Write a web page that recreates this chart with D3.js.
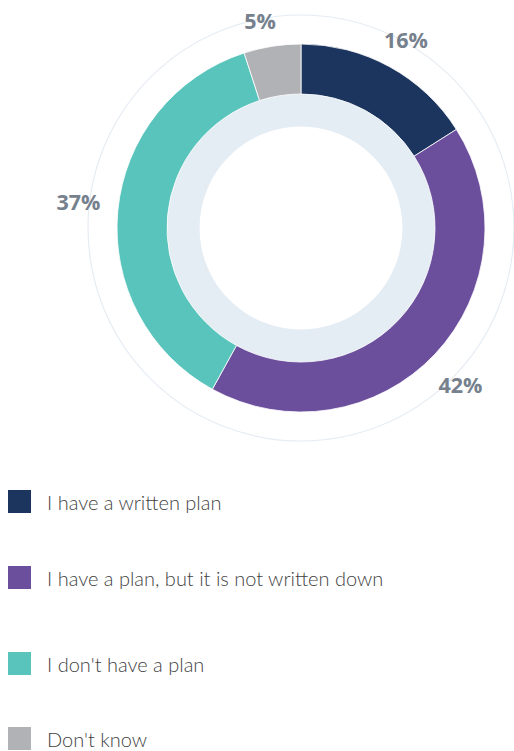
<!DOCTYPE html>
<html>
<head>
<meta charset="utf-8">
<script src="https://cdn.jsdelivr.net/npm/d3@7"></script>
<style>
  html, body { margin: 0; padding: 0; background: #ffffff; }
  svg { display: block; }
</style>
</head>
<body>
<svg id="chart" width="514" height="751"></svg>
<script>
// Survey answers, in clockwise order starting at 12 o'clock
const categories = [
  "I have a written plan",
  "I have a plan, but it is not written down",
  "I don't have a plan",
  "Don't know"
];
const shares = [16, 42, 37, 5];
const colors = ["#1b355e", "#6b4f9d", "#59c4bc", "#b1b2b6"];

const svg = d3.select("#chart");
const cx = 301, cy = 228;
const outerR = 184, innerR = 134;      // coloured ring
const bandInner = 101.5;               // pale band inside the ring
const guideR = 213;                    // faint outer guide circle

// label placement: distance from centre and a small angular nudge (degrees)
const labelDist = [215, 224, 224, 211];
const labelTurn = [0.4, 1.4, 1.2, -2.2];

const g = svg.append("g").attr("transform", `translate(${cx},${cy})`);

// faint guide circle
g.append("circle")
  .attr("r", guideR)
  .attr("fill", "none")
  .attr("stroke", "#e6ecf3")
  .attr("stroke-width", 1.2);

// pale inner band
g.append("path")
  .attr("d", d3.arc().innerRadius(bandInner).outerRadius(innerR + 0.5)
    .startAngle(0).endAngle(2 * Math.PI)())
  .attr("fill", "#e4ecf4");

const pie = d3.pie().sort(null).value(d => d.value);
const data = pie(categories.map((c, i) => ({ name: c, value: shares[i], color: colors[i] })));
const arc = d3.arc().innerRadius(innerR).outerRadius(outerR);

g.selectAll("path.slice")
  .data(data)
  .join("path")
  .attr("class", "slice")
  .attr("d", arc)
  .attr("fill", d => d.data.color)
  .attr("stroke", "#ffffff")
  .attr("stroke-width", 0.8);

// percentage labels around the ring
function labelPos(d, i) {
  const a = (d.startAngle + d.endAngle) / 2 + labelTurn[i] * Math.PI / 180;
  return [labelDist[i] * Math.sin(a), -labelDist[i] * Math.cos(a)];
}
g.selectAll("text.pct")
  .data(data)
  .join("text")
  .attr("class", "pct")
  .attr("transform", (d, i) => `translate(${labelPos(d, i)})`)
  .attr("text-anchor", "middle")
  .attr("dy", "0.36em")
  .attr("font-family", "'Open Sans', sans-serif")
  .attr("font-weight", 700)
  .attr("font-size", 21.5)
  .attr("fill", "#76818d")
  .text(d => d.data.value + "%");

// legend
const legendY = [490, 566, 652, 727];
const legend = svg.append("g");
const rows = legend.selectAll("g")
  .data(categories)
  .join("g")
  .attr("transform", (d, i) => `translate(8,${legendY[i]})`);

rows.append("rect")
  .attr("width", 23)
  .attr("height", 23)
  .attr("fill", (d, i) => colors[i]);

rows.append("text")
  .attr("x", 39)
  .attr("y", 19.5)
  .attr("font-family", "Lato, sans-serif")
  .attr("font-weight", 300)
  .attr("font-size", 20)
  .attr("fill", "#3f3f3f")
  .text(d => d);
</script>
</body>
</html>
